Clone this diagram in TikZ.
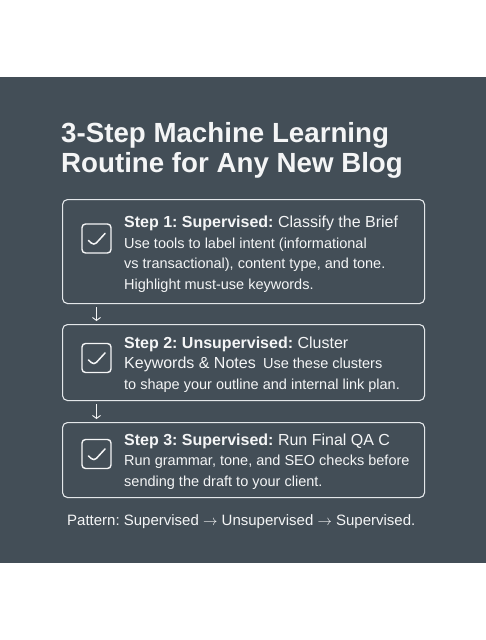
\documentclass[tikz,border=0pt]{standalone}
\usepackage{fontspec}
\setmainfont{Liberation Sans}
\usetikzlibrary{positioning, arrows.meta}
\definecolor{SlateBg}{HTML}{434E57}
\definecolor{SoftWhite}{HTML}{F4F5F6}
\definecolor{EdgeGrey}{HTML}{E4E7EA}
\newcommand{\stephead}[1]{{\fontsize{16}{20}\selectfont #1}}
\frenchspacing

\begin{document}
\begin{tikzpicture}[
                x=1pt, y=-1pt,
                >={Straight Barb[length=3pt, width=8pt]},
                stepbox/.style={rectangle, draw=EdgeGrey, line width=1.1pt, rounded corners=5pt, minimum width=362pt, anchor=north west, inner sep=0pt},
                tickbox/.style={rectangle, draw=SoftWhite, line width=1.4pt, rounded corners=3.5pt, minimum size=29pt, inner sep=0pt,
                    path picture={\draw[SoftWhite, line width=1.5pt, line cap=round, line join=round]
                        ([shift={(-8,2)}]path picture bounding box.center) -- ([shift={(-2.5,7)}]path picture bounding box.center) -- ([shift={(8.5,-5)}]path picture bounding box.center);}},
                steptext/.style={anchor=base west, align=left, inner sep=0pt, text=SoftWhite, font=\fontsize{14.5}{20.5}\selectfont},
                flow/.style={->, SoftWhite, line width=0.9pt, shorten <=3pt, shorten >=3pt}
            ]
                % Background
                \useasboundingbox (0,0) rectangle (486,640);
                \fill[SlateBg] (0,77) rectangle (486,563);

                % Title (anchored on its last baseline)
                \node[anchor=base west, align=left, inner sep=0pt, text=SoftWhite, font=\bfseries\fontsize{27.7}{30}\selectfont] (title) at (61,172)
                    {3-Step Machine Learning\\Routine for Any New Blog};

                % Steps
                \node[stepbox, minimum height=104pt] (box1) at (62,199) {};
                \node[tickbox] (chk1) at (96.5,238.5) {};
                \node[steptext] (txt1) at (124,289)
                    {\stephead{\textbf{Step 1: Supervised:} Classify the Brief}\\
                     Use tools to label intent (informational\\
                     vs transactional), content type, and tone.\\
                     Highlight must-use keywords.};

                \node[stepbox, minimum height=76pt] (box2) at (62,324) {};
                \node[tickbox] (chk2) at (96.5,358) {};
                \node[steptext] (txt2) at (124,389)
                    {\stephead{\textbf{Step 2: Unsupervised:} Cluster}\\
                     \stephead{Keywords \& Notes}\enspace Use these clusters\\
                     to shape your outline and internal link plan.};

                \node[stepbox, minimum height=75pt] (box3) at (62,422) {};
                \node[tickbox] (chk3) at (96.5,454) {};
                \node[steptext] (txt3) at (124,486)
                    {\stephead{\textbf{Step 3: Supervised:} Run Final QA C}\\
                     Run grammar, tone, and SEO checks before\\
                     sending the draft to your client.};

                % Arrows between steps
                \draw[flow] (box1.south -| chk1.center) -- (box2.north -| chk1.center);
                \draw[flow] (box2.south -| chk2.center) -- (box3.north -| chk2.center);

                % Pattern line
                \node[anchor=base west, inner sep=0pt, text=SoftWhite, font=\fontsize{15}{17}\selectfont] (pattern) at (67,525)
                    {Pattern: Supervised $\rightarrow$ Unsupervised $\rightarrow$ Supervised.};
            \end{tikzpicture}
\end{document}
